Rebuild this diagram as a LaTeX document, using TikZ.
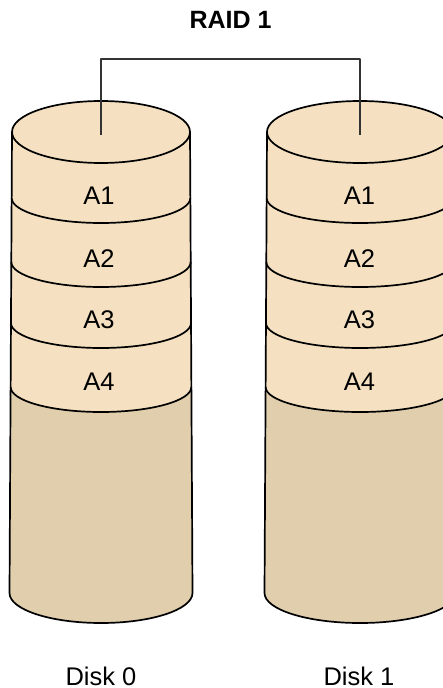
\documentclass[tikz,border=0pt]{standalone}
\usepackage{fontspec}
\setmainfont{Liberation Sans}
\definecolor{diskLight}{RGB}{245,225,193}
\definecolor{diskDark}{RGB}{224,206,173}
\definecolor{wire}{RGB}{51,51,51}
\newcommand\mydisk[2]{%
  \fill[diskDark] ({#1-#2},132) -- ({#1-#2-2.5},593) arc[start angle=180,end angle=0,x radius={#2+2.5},y radius=30] -- ({#1+#2},132) -- cycle;
  \fill[diskLight] ({#1-#2},132) -- ({#1-#2-1.38},387) arc[start angle=180,end angle=0,x radius={#2+1.38},y radius=25] -- ({#1+#2},132) -- cycle;
  \draw[outline] ({#1-#2},132) -- ({#1-#2-2.5},593) arc[start angle=180,end angle=0,x radius={#2+2.5},y radius=30] -- ({#1+#2},132);
  \foreach \yy/\dd in {198/0.36,262/0.7,323/1.04,387/1.38}{
    \draw[outline] ({#1-#2-\dd},\yy) arc[start angle=180,end angle=0,x radius={#2+\dd},y radius=25];
  }
  \draw[outline,fill=diskLight] (#1,132) ellipse[x radius=#2,y radius=31];
}
\begin{document}
\begin{tikzpicture}[x=1bp,y=-1bp,line join=round,
  outline/.style={draw=black,line width=1.7bp},
  lbl/.style={font=\fontsize{25.5bp}{30bp}\selectfont,inner sep=0pt},
  wireline/.style={draw=wire,line width=1.4bp}]
\useasboundingbox (0,0) rectangle (443,688);
\clip (0,0) rectangle (443,688);
\mydisk{101}{89}
\mydisk{360}{93}
\coordinate (c0) at (101,135);
\coordinate (c1) at (360,135);
\coordinate (t0) at (101,59);
\draw[wireline] (c0) -- (t0) -| (c1);
\node[lbl,font=\fontsize{25bp}{30bp}\selectfont\bfseries] (title) at (230.5,20) {RAID 1};
\node[lbl] (a1l) at (99,196) {A1};
\node[lbl] (a2l) at (99,259) {A2};
\node[lbl] (a3l) at (99,320) {A3};
\node[lbl] (a4l) at (99,382) {A4};
\node[lbl] (a1r) at (359.5,196) {A1};
\node[lbl] (a2r) at (359.5,259) {A2};
\node[lbl] (a3r) at (359.5,320) {A3};
\node[lbl] (a4r) at (359.5,382) {A4};
\node[lbl] (d0) at (101,676) {Disk 0};
\node[lbl] (d1) at (359,676) {Disk 1};
\end{tikzpicture}
\end{document}
